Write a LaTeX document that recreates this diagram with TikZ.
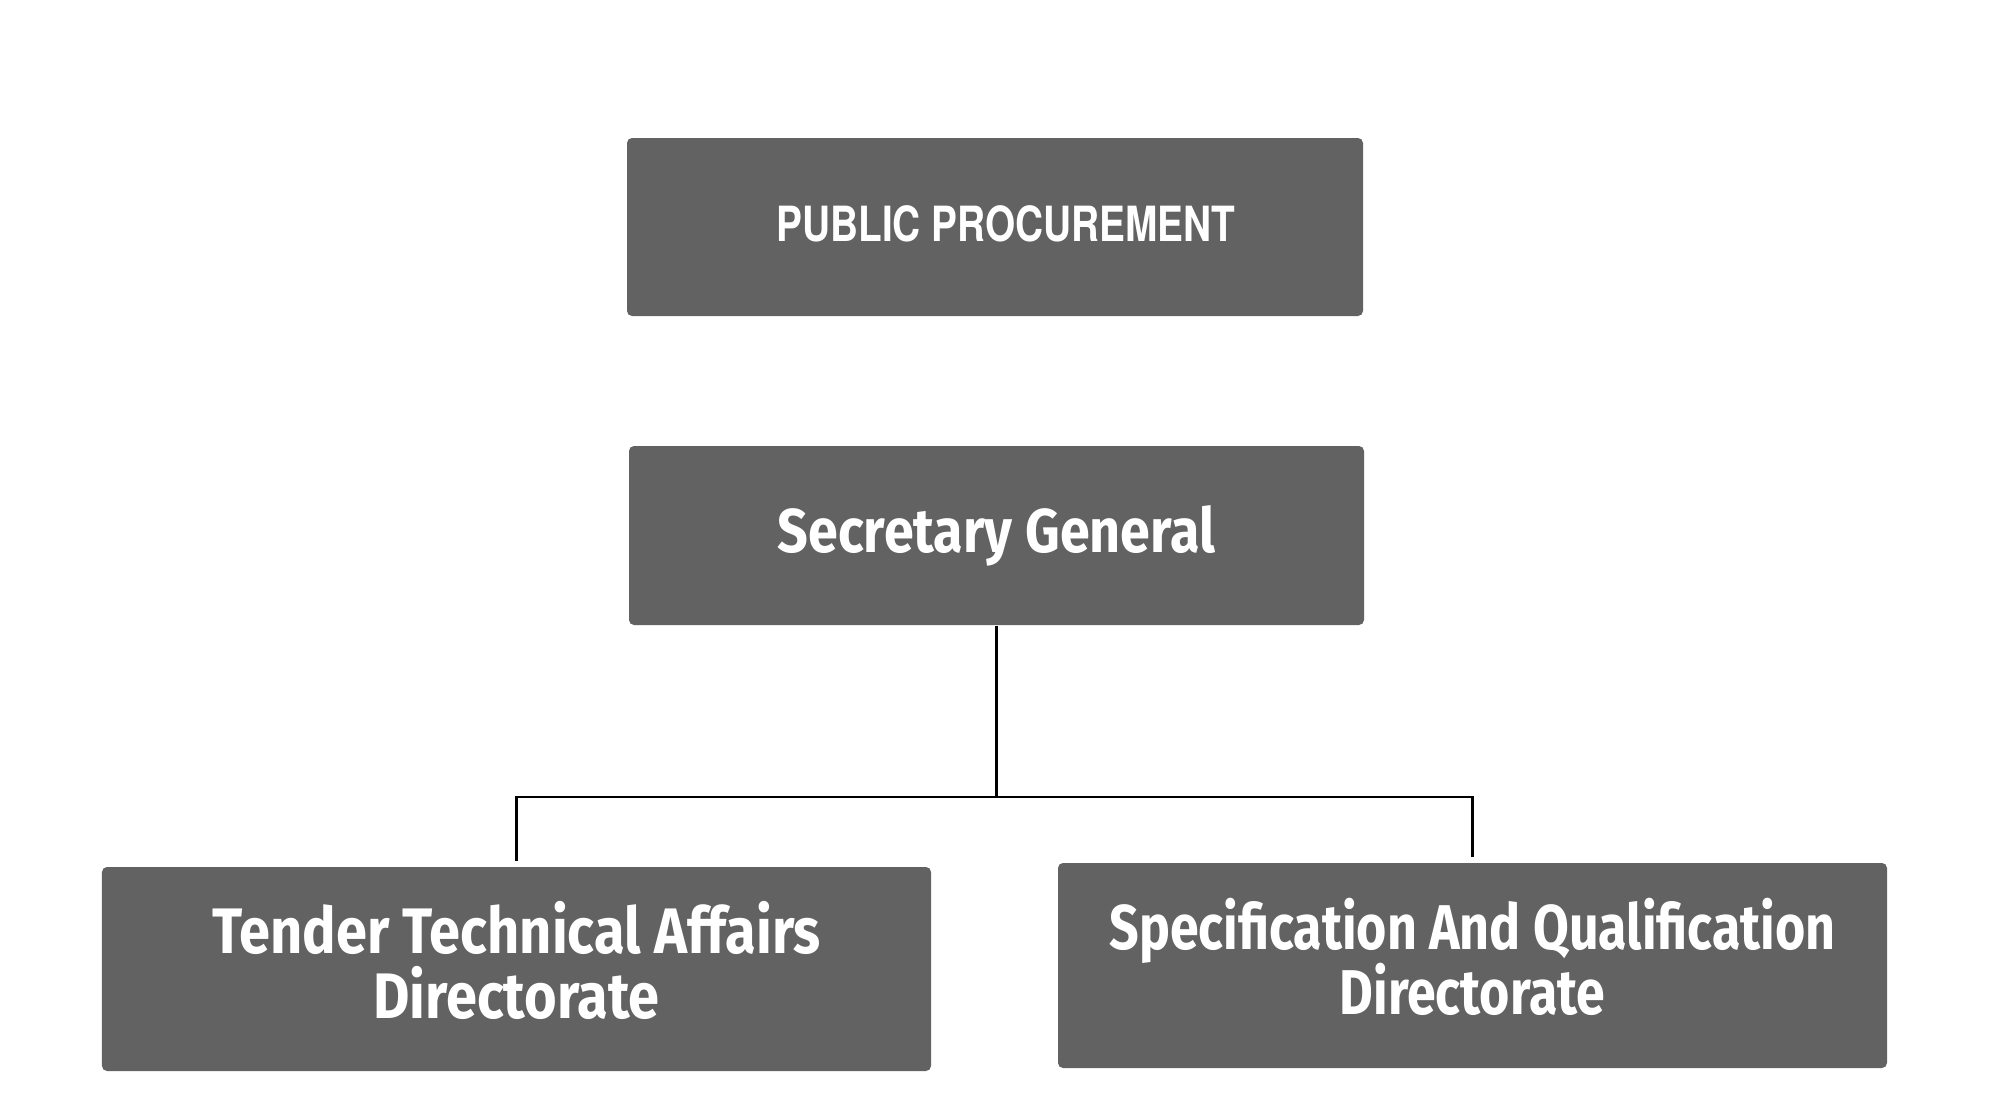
\documentclass[tikz,border=0pt]{standalone}
\usepackage{fontspec}
\usepackage{tikz}
\setmainfont{Fira Sans}
\newfontfamily\capsfont{TeX Gyre Heros}
\newfontfamily\namefont[FakeStretch=0.87]{Fira Sans}
\newfontfamily\unitfont[FakeStretch=0.82]{Fira Sans}
\newcommand{\twolines}[2]{\raisebox{-1.05mm}{\begin{tabular}{@{}c@{}}#1\\[-1.5pt]#2\end{tabular}}}
\definecolor{boxG}{HTML}{626262}

\begin{document}
\begin{tikzpicture}[x=1cm,y=1cm,
  unit/.style={fill=boxG,rounded corners=0.5mm,text=white,align=center,inner sep=0pt},
  link/.style={black,line width=0.6pt,shorten >=0.5mm}]
\useasboundingbox (0,0) rectangle (19.99,-11.20);
\node[unit,minimum width=7.36cm,minimum height=1.78cm,font=\capsfont\bfseries\fontsize{13.8}{16}\selectfont] (pp) at (9.95,-2.27) {\hspace*{2.2mm}\raisebox{0.75mm}{\scalebox{0.8}[1]{PUBLIC PROCUREMENT}}};
\node[unit,minimum width=7.35cm,minimum height=1.79cm,font=\namefont\bfseries\fontsize{17.6}{20}\selectfont] (sg) at (9.965,-5.355) {Secretary General};
\node[unit,minimum width=8.29cm,minimum height=2.04cm,font=\namefont\bfseries\fontsize{18.3}{17.4}\selectfont] (tta) at (5.165,-9.69) {\twolines{Tender Technical Affairs}{Directorate}};
\node[unit,minimum width=8.29cm,minimum height=2.05cm,font=\unitfont\bfseries\fontsize{18}{17.4}\selectfont] (saq) at (14.725,-9.655) {\twolines{Specification And Qualification}{Directorate}};
\draw[link] (sg.south) -- ++(0,-1.71) -| (tta.north);
\draw[link] (sg.south) -- ++(0,-1.71) -| (saq.north);
\end{tikzpicture}
\end{document}
